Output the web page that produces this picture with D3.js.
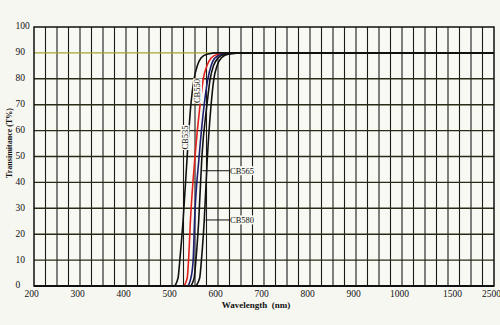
<!DOCTYPE html>
<html><head><meta charset="utf-8">
<script src="https://cdn.jsdelivr.net/npm/d3@7"></script>
<style>
html,body{margin:0;padding:0;background:#f7f7f1;}
svg{display:block;}
text{font-family:"Liberation Serif","DejaVu Serif",serif;fill:#111;}
</style></head>
<body>
<svg id="chart" width="500" height="325"></svg>
<script>
// ---- data ----
const xBreaks = [200, 1000, 1500, 2500];
const xTickValues = [200, 300, 400, 500, 600, 700, 800, 900, 1000, 1500, 2500];
const yTickValues = [0, 10, 20, 30, 40, 50, 60, 70, 80, 90, 100];
const seriesNames = ["CB535", "CB550", "", "CB565", "CB580"];
const seriesColors = ["#111111", "#e3211c", "#1d2070", "#111111", "#111111"];
// transmittance levels (T%) shared by all curves
const tLevels = [0, 0, 3, 10, 25, 50, 70, 80, 85, 88, 89.5, 90, 90];
// wavelengths (nm) at each level
const wlCB535 = [200, 504, 513, 517, 524, 533, 541, 548, 555, 563, 576, 600, 2500];
const wlCB550 = [200, 524, 533, 536, 540, 550, 561, 568, 576, 585, 600, 630, 2500];
const wlNavy  = [200, 533, 541, 546, 549, 559, 570, 578, 585, 593, 609, 641, 2500];
const wlCB565 = [200, 539, 548, 552, 558, 565, 576, 583, 590, 600, 615, 648, 2500];
const wlCB580 = [200, 550, 560, 564, 570, 577, 585, 591, 598, 607, 622, 659, 2500];
const seriesWl = [wlCB535, wlCB550, wlNavy, wlCB565, wlCB580];

// ---- layout ----
const L = 34, R = 494, T = 27, B = 286;
const svg = d3.select("#chart");
const x = d3.scaleLinear().domain(xBreaks).range([L, 402, 455, R]);
const y = d3.scaleLinear().domain([0, 100]).range([B, T]);

svg.append("rect").attr("width", 500).attr("height", 325).attr("fill", "#f7f7f1");
svg.append("rect").attr("x", L).attr("y", T).attr("width", R - L).attr("height", B - T).attr("fill", "#f9f9f4");

// vertical grid: 40 equal cells
const step = (R - L) / 40;
const gridX = d3.range(1, 40).map(k => x.invert(L + k * step));
svg.append("g").selectAll("line").data(gridX).join("line")
  .attr("x1", d => x(d)).attr("x2", d => x(d))
  .attr("y1", T).attr("y2", B)
  .attr("stroke", "#1a1a1a").attr("stroke-width", 1.1);

// horizontal grid
svg.append("g").selectAll("line").data(yTickValues.filter(v => v > 0 && v < 100)).join("line")
  .attr("x1", L).attr("x2", R)
  .attr("y1", d => y(d)).attr("y2", d => y(d))
  .attr("stroke", d => d === 90 ? "#a6a636" : "#2a2a16").attr("stroke-width", 1.4);

// border
svg.append("rect").attr("x", L).attr("y", T).attr("width", R - L).attr("height", B - T)
  .attr("fill", "none").attr("stroke", "#111").attr("stroke-width", 1.5);
svg.append("line").attr("x1", L).attr("x2", R).attr("y1", B).attr("y2", B)
  .attr("stroke", "#111").attr("stroke-width", 2);

// curves
const line = d3.line().x(d => x(d.w)).y(d => y(d.t)).curve(d3.curveMonotoneX);
const order = [1, 2, 0, 3, 4];
order.forEach(i => {
  const pts = seriesWl[i].map((w, j) => ({w: w, t: tLevels[j]}));
  svg.append("path").datum(pts).attr("d", line)
    .attr("fill", "none").attr("stroke", seriesColors[i]).attr("stroke-width", 1.6);
});

// x tick labels
const xAxis = svg.append("g").attr("transform", `translate(0,${B})`)
  .call(d3.axisBottom(x).tickValues(xTickValues).tickSize(0).tickPadding(5).tickFormat(d3.format("d")));
xAxis.select(".domain").remove();
xAxis.selectAll("text").attr("font-family", "Liberation Serif").attr("font-size", 9.5)
  .attr("fill", "#111").attr("dx", -3).attr("dy", "0.62em");

// y tick labels
const yAxis = svg.append("g").attr("transform", `translate(${L},0)`)
  .call(d3.axisLeft(y).tickValues(yTickValues).tickSize(0).tickPadding(0));
yAxis.select(".domain").remove();
yAxis.selectAll("text").attr("font-family", "Liberation Serif").attr("font-size", 9.5)
  .attr("fill", "#111").attr("text-anchor", "start").attr("x", 15.5 - L).attr("dy", "0.2em");

// axis titles
svg.append("text").attr("x", 256).attr("y", 308).attr("text-anchor", "middle")
  .attr("font-size", 9).attr("font-weight", "bold").text("Wavelength  (nm)").attr("xml:space", "preserve");
svg.append("text").attr("transform", "translate(11.5,143) rotate(-90)").attr("text-anchor", "middle")
  .attr("font-size", 8).attr("font-weight", "bold").text("Transimitance (T%)");

// curve labels
function vlabel(txt, cx, cy) {
  const g = svg.append("g").attr("transform", `translate(${cx},${cy}) rotate(-90)`);
  const t = g.append("text").attr("text-anchor", "middle").attr("dy", "0.35em")
    .attr("font-size", 8.5).text(txt);
  const bb = t.node().getBBox();
  g.insert("rect", "text").attr("x", bb.x - 0.5).attr("y", bb.y + 0.5)
    .attr("width", bb.width + 1).attr("height", bb.height - 1).attr("fill", "#f9f9f4");
}
vlabel(seriesNames[0], 185, 137.5);
vlabel(seriesNames[1], 197.5, 91);

function leader(txt, w, tv, x2) {
  const x1 = x(w), yy = y(tv);
  svg.append("line").attr("x1", x1).attr("x2", x2).attr("y1", yy).attr("y2", yy)
    .attr("stroke", "#111").attr("stroke-width", 1);
  const t = svg.append("text").attr("x", x2 + 1).attr("y", yy).attr("dy", "0.35em")
    .attr("font-size", 8.5).text(txt);
  const bb = t.node().getBBox();
  svg.insert("rect", () => t.node()).attr("x", bb.x).attr("y", bb.y + 0.5)
    .attr("width", bb.width).attr("height", bb.height - 1).attr("fill", "#f9f9f4");
}
leader(seriesNames[3], 566, 44.5, 229);
leader(seriesNames[4], 573, 25.5, 229);
</script>
</body></html>
